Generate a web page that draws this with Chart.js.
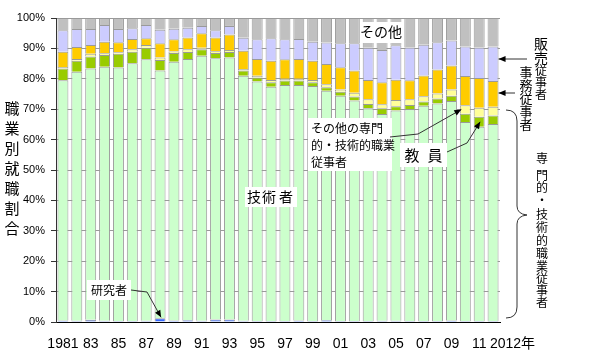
<!DOCTYPE html>
<html>
<head>
<meta charset="utf-8">
<script src="https://cdn.jsdelivr.net/npm/chart.js@4/dist/chart.umd.min.js"></script>
<style>
html, body { margin: 0; padding: 0; background: #fff; }
#wrap { width: 600px; height: 359px; position: relative; }
</style>
</head>
<body>
<div id="wrap"><canvas id="mycanvas"></canvas></div>
<script>
// years and the tick labels shown under them
var years = [1981,1982,1983,1984,1985,1986,1987,1988,1989,1990,1991,1992,1993,1994,1995,1996,
             1997,1998,1999,2000,2001,2002,2003,2004,2005,2006,2007,2008,2009,2010,2011,2012];
var tickLabels = ["1981","","83","","85","","87","","89","","91","","93","","95","",
                  "97","","99","","01","","03","","05","","07","","09","","11","2012年"];

// shares in % (bottom to top)
var kenkyusha = [0.5,0.4,0.7,0.4,0.3,0.3,0.4,1.2,0.5,0.6,0.4,0.8,0.8,0.4,0.3,0.3,
                 0.3,0.5,0.3,0.6,0.3,0.3,0.3,0.4,0.4,0.3,0.3,0.3,0.5,0.3,0.3,0.3];
var gijutsusha = [79.0,81.9,82.7,83.6,83.4,84.8,86.0,81.5,85.1,85.9,87.2,86.0,86.2,80.6,78.8,77.1,
                  77.7,77.5,77.3,75.5,74.1,72.6,70.0,68.0,69.2,69.7,70.8,71.6,72.2,65.5,63.9,64.8];
var kyoin = [3.9,3.6,3.9,3.8,4.5,3.8,3.8,3.5,2.9,2.3,2.1,1.7,1.8,1.7,1.3,1.5,
             1.4,1.4,1.3,1.1,1.3,1.3,1.4,1.9,1.4,1.4,1.4,1.6,1.7,2.7,3.3,2.8];
var sonotaSenmon = [0.5,0.6,0.9,0.6,0.5,0.8,0.9,0.8,0.5,0.9,0.5,0.6,0.7,0.5,0.6,0.7,
                    0.6,0.6,0.7,1.0,0.8,1.2,1.6,1.3,2.0,1.9,1.8,1.7,2.1,2.8,3.0,2.9];
var jimu = [5.0,4.0,2.9,3.8,3.3,3.4,2.2,4.7,4.0,3.9,4.8,4.5,5.1,6.0,5.5,6.3,
            6.4,6.5,6.3,6.7,7.3,7.3,6.3,7.3,6.7,6.2,6.8,7.9,7.9,9.6,9.8,8.5];
var hanbai = [7.1,5.9,5.3,5.5,4.4,3.5,4.4,4.4,3.5,3.2,2.4,2.4,2.8,4.3,6.5,7.4,
              6.6,6.6,6.3,7.0,7.9,9.0,10.6,10.6,11.3,10.8,10.1,8.9,8.2,9.7,10.0,11.3];
var sonota = [4.0,3.6,3.6,2.3,3.6,3.4,2.3,3.9,3.5,3.2,2.6,4.0,2.6,6.5,7.0,6.7,
              7.0,6.9,7.8,8.1,8.3,8.3,9.8,10.5,9.0,9.7,8.8,8.0,7.4,9.4,9.7,9.4];

var JP = "'Noto Sans CJK JP', sans-serif";
var NUM = "'Liberation Sans', 'Noto Sans CJK JP', sans-serif";

function mkSet(label, data, color) {
    return {
        label: label,
        data: data,
        backgroundColor: color,
        borderColor: "#9a9a9a",
        borderWidth: {left: 1, right: 1, top: 1, bottom: 0},
        borderSkipped: false,
        barPercentage: 0.79,
        categoryPercentage: 1.0
    };
}

function arrow(ctx, pts) {
    ctx.beginPath();
    ctx.moveTo(pts[0][0], pts[0][1]);
    for (var i = 1; i < pts.length; i++) ctx.lineTo(pts[i][0], pts[i][1]);
    ctx.stroke();
    var a = pts[pts.length - 2], b = pts[pts.length - 1];
    var ang = Math.atan2(b[1] - a[1], b[0] - a[0]);
    ctx.beginPath();
    ctx.moveTo(b[0], b[1]);
    ctx.lineTo(b[0] - 7 * Math.cos(ang) + 3 * Math.sin(ang), b[1] - 7 * Math.sin(ang) - 3 * Math.cos(ang));
    ctx.lineTo(b[0] - 7 * Math.cos(ang) - 3 * Math.sin(ang), b[1] - 7 * Math.sin(ang) + 3 * Math.cos(ang));
    ctx.closePath();
    ctx.fill();
}

function vtext(ctx, chars, x, ys, font) {
    ctx.font = font;
    for (var i = 0; i < chars.length; i++) ctx.fillText(chars[i], x, ys[i]);
}

var notes = {
    id: "notes",
    afterDraw: function(chart) {
        var ctx = chart.ctx;
        ctx.save();
        ctx.textAlign = "center";
        ctx.textBaseline = "middle";
        ctx.fillStyle = "#000";
        ctx.strokeStyle = "#333";
        ctx.lineWidth = 1;

        // axis title
        vtext(ctx, "職業別就職割合".split(""), 12, [108,128,148,168,188,208,228], "15px " + JP);

        // boxes with labels inside the plot
        ctx.fillStyle = "#fff";
        ctx.fillRect(360, 22, 43, 21);
        ctx.fillRect(245, 187, 52, 20);
        ctx.fillRect(87, 280, 44, 20);
        ctx.fillRect(308, 118, 84, 53);
        ctx.fillRect(400, 143, 47, 24);
        ctx.fillStyle = "#000";

        ctx.font = "14px " + JP;
        ctx.fillText("その他", 381, 32);
        ctx.fillText("技", 254, 197);
        ctx.fillText("術", 269, 197);
        ctx.fillText("者", 286, 197);
        ctx.font = "12px " + JP;
        ctx.fillText("研究者", 109, 290);
        ctx.textAlign = "left";
        ctx.fillText("その他の専門", 311, 128);
        ctx.fillText("的・技術的職業", 311, 145);
        ctx.fillText("従事者", 311, 162);
        ctx.textAlign = "center";
        ctx.font = "15px " + JP;
        ctx.fillText("教", 412, 155);
        ctx.fillText("員", 435, 155);

        // leader lines to the bars
        var b88 = chart.getDatasetMeta(0).data[7];
        arrow(ctx, [[131, 290], [147, 292], [b88.x + 1, b88.y - 1]]);
        var y10 = chart.getDatasetMeta(3).data[29];
        arrow(ctx, [[390, 137], [418, 134], [y10.x - 4, (y10.y + y10.base) / 2]]);
        var g11 = chart.getDatasetMeta(2).data[30];
        arrow(ctx, [[447, 152], [467, 143], [g11.x + 1, (g11.y + g11.base) / 2]]);
        var last = chart.getDatasetMeta(5).data[31];
        var edge = last.x + last.width / 2;
        arrow(ctx, [[527, 59], [edge, 59]]);
        arrow(ctx, [[515, 93], [edge, 93]]);

        // right side labels
        vtext(ctx, ["販", "売"], 541, [44, 57.5], "14px " + JP);
        vtext(ctx, ["従", "事", "者"], 541, [70.5, 82, 94], "12px " + JP);
        vtext(ctx, "事務従事者".split(""), 526, [72, 85, 98.5, 111, 124.5], "13px " + JP);
        vtext(ctx, "専門的・技術的職業従事者".split(""), 542,
              [158, 175, 187, 200, 214, 227, 240, 253, 266, 278, 290, 302], "12px " + JP);

        // brace
        ctx.beginPath();
        ctx.moveTo(506, 110);
        ctx.quadraticCurveTo(517, 110, 517, 121);
        ctx.lineTo(517, 206);
        ctx.quadraticCurveTo(517, 214, 527, 215);
        ctx.quadraticCurveTo(517, 216, 517, 224);
        ctx.lineTo(517, 307);
        ctx.quadraticCurveTo(517, 318, 506, 318);
        ctx.stroke();

        ctx.restore();
    }
};

var ctx = document.getElementById("mycanvas");
var chart = new Chart(ctx, {
    type: "bar",
    data: {
        labels: years,
        datasets: [
            mkSet("研究者", kenkyusha, "#3366ff"),
            mkSet("技術者", gijutsusha, "#ccffcc"),
            mkSet("教員", kyoin, "#99cc00"),
            mkSet("その他の専門的・技術的職業従事者", sonotaSenmon, "#ffff99"),
            mkSet("事務従事者", jimu, "#ffcc00"),
            mkSet("販売従事者", hanbai, "#ccccff"),
            mkSet("その他", sonota, "#c0c0c0")
        ]
    },
    options: {
        responsive: true,
        maintainAspectRatio: false,
        animation: false,
        devicePixelRatio: 1,
        layout: { padding: { top: 18, right: 100, left: 0, bottom: 0 } },
        plugins: {
            legend: { display: false },
            tooltip: { enabled: false }
        },
        scales: {
            x: {
                stacked: true,
                grid: { display: false },
                border: { color: "#000", width: 1 },
                ticks: {
                    autoSkip: false,
                    maxRotation: 0,
                    padding: 6,
                    color: "#000",
                    font: { family: NUM, size: 14 },
                    // last label sits to the right of its bar, as in the original
                    callback: function(v, i) {
                        return i === tickLabels.length - 1 ? "          " + tickLabels[i] : tickLabels[i];
                    }
                },
                afterFit: function(s) { s.height = 37; }
            },
            y: {
                stacked: true,
                min: 0,
                max: 100,
                grid: { color: "#9a9a9a", tickLength: 5, tickColor: "#333" },
                border: { color: "#333", width: 1 },
                ticks: {
                    stepSize: 10,
                    padding: 6,
                    color: "#000",
                    font: { family: NUM, size: 11 },
                    callback: function(v) { return v + "%"; }
                },
                afterFit: function(s) { s.width = 56; }
            }
        }
    },
    plugins: [notes]
});
</script>
</body>
</html>
